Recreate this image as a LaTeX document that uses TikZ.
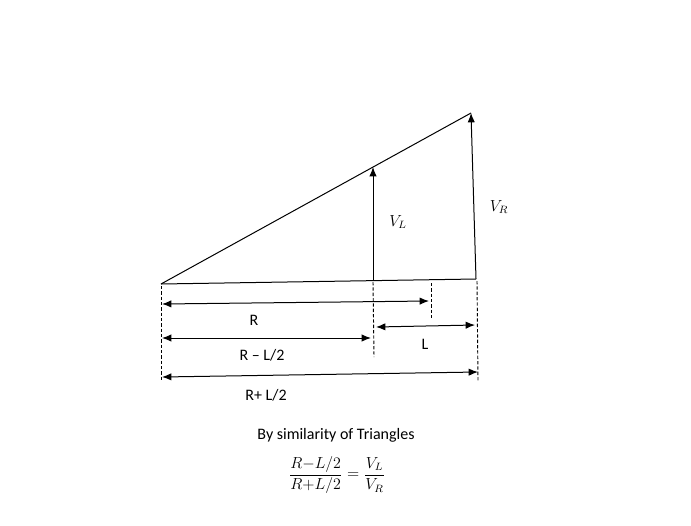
\documentclass[tikz,border=0pt]{standalone}
\usepackage{fontspec}
\setmainfont{Carlito}
\usetikzlibrary{arrows.meta}
\tikzset{
  ln/.style={line width=0.75pt,black},
  vec/.style={ln,-{Latex[length=7pt,width=5.5pt]}},
  dim/.style={ln,{Latex[length=7pt,width=5.5pt]}-{Latex[length=7pt,width=5.5pt]}},
  dsh/.style={line width=0.7pt,black,dash pattern=on 2.5pt off 1.5pt},
  lbl/.style={font=\fontsize{12}{14}\selectfont,inner sep=1pt}
}
\begin{document}
\begin{tikzpicture}[x=0.75pt,y=-0.75pt]
\useasboundingbox (0,0) rectangle (691,525);
% main points
\coordinate (O) at (161,284);
\coordinate (B) at (476,279);
\coordinate (T) at (471,113);
\coordinate (LB) at (373,281);
\coordinate (LT) at (373,167);
% triangle
\draw[ln] (O) -- (B);
\draw[ln] (O) -- (T);
\draw[vec] (B) -- (T);
\draw[vec] (LB) -- (LT);
% dashed guides
\coordinate (d1a) at (161,286); \coordinate (d1b) at (161,381);
\coordinate (d2a) at (373,282); \coordinate (d2b) at (374,357);
\coordinate (d3a) at (431,283); \coordinate (d3b) at (431,318);
\coordinate (d4a) at (477,281); \coordinate (d4b) at (478,381);
\draw[dsh] (d1a) -- (d1b);
\draw[dsh] (d2a) -- (d2b);
\draw[dsh] (d3a) -- (d3b);
\draw[dsh] (d4a) -- (d4b);
% dimension arrows
\coordinate (r1) at (162,304); \coordinate (r2) at (429,301);
\coordinate (m1) at (162,338); \coordinate (m2) at (371,338);
\coordinate (l1) at (376,327); \coordinate (l2) at (475,325);
\coordinate (p1) at (162,377); \coordinate (p2) at (478,372);
\draw[dim] (r1) -- (r2);
\draw[dim] (m1) -- (m2);
\draw[dim] (l1) -- (l2);
\draw[dim] (p1) -- (p2);
% labels
\node[lbl] (tR) at (254,320) {R};
\node[lbl] (tRm) at (262,355) {R – L/2};
\node[lbl] (tL) at (425,344) {L};
\node[lbl] (tRp) at (266,395) {R+ L/2};
\node[lbl] (tVL) at (398,222) {$V_L$};
\node[lbl] (tVR) at (499,207) {$V_R$};
\node[lbl] (tBy) at (336,435) {By similarity of Triangles};
\node[lbl] (tEq) at (337,475) {$\displaystyle \frac{R{-}L/2}{R{+}L/2}=\frac{V_L}{V_R}$};
\end{tikzpicture}
\end{document}
